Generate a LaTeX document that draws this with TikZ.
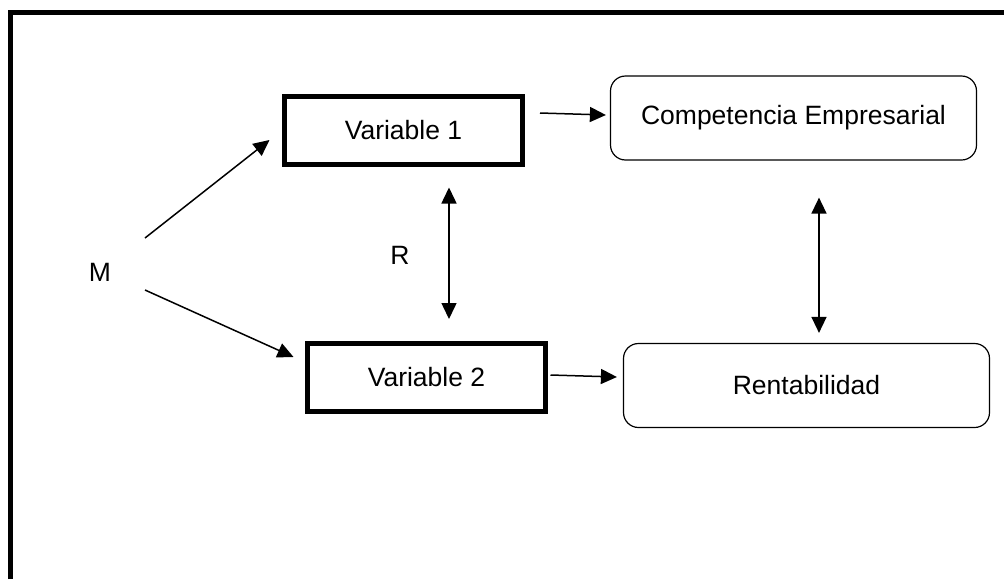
\documentclass[tikz,border=0pt]{standalone}
\usepackage{fontspec}
\setmainfont{Liberation Sans}
\usetikzlibrary{arrows.meta}

\begin{document}
\begin{tikzpicture}[x=1pt,y=-1pt,inner sep=1mm,
  font=\fontsize{26.5}{31}\selectfont,
  varbox/.style={rectangle,draw=black,line width=5pt,minimum width=238pt,minimum height=68pt},
  resbox/.style={rectangle,draw=black,line width=1.2pt,rounded corners=15pt,minimum width=366pt,minimum height=84pt},
  arr/.style={line width=1.5pt,-{Triangle[length=16pt,width=15pt]}},
  dblarr/.style={line width=1.5pt,{Triangle[length=16pt,width=15pt]}-{Triangle[length=16pt,width=15pt]}}]

\useasboundingbox (0,0) rectangle (1004,579);
\fill[white] (0,0) rectangle (1004,579);

\draw[line width=5pt] (10,579) -- (10,12.5) -- (1004,12.5);

\node[varbox] (V1) at (403.5,130.5) {Variable 1};
\node[varbox] (V2) at (426.5,377) {Variable 2};
\node[resbox] (CE) at (793.5,118) {Competencia Empresarial};
\node[resbox] (RE) at (806.5,385.5) {Rentabilidad};

\node (M) at (100,272) {M};
\node (R) at (400,255) {R};

\draw[arr] ([xshift=45pt,yshift=34pt]M.center) -- ([xshift=-12.5pt,yshift=-9.5pt]V1.west);
\draw[arr] ([xshift=45pt,yshift=-18pt]M.center) -- ([xshift=-11.5pt,yshift=20pt]V2.west);
\draw[arr] ([xshift=15pt,yshift=17.5pt]V1.east) -- ([xshift=-4pt,yshift=3pt]CE.west);
\draw[arr] ([xshift=2.5pt,yshift=2pt]V2.east) -- ([xshift=-6pt,yshift=8.5pt]RE.west);

\draw[dblarr] ([xshift=45.5pt,yshift=-20.5pt]V1.south) -- ([xshift=22.5pt,yshift=21.5pt]V2.north);
\draw[dblarr] ([xshift=25.5pt,yshift=-37pt]CE.south) -- ([xshift=12.5pt,yshift=10pt]RE.north);

\end{tikzpicture}
\end{document}
